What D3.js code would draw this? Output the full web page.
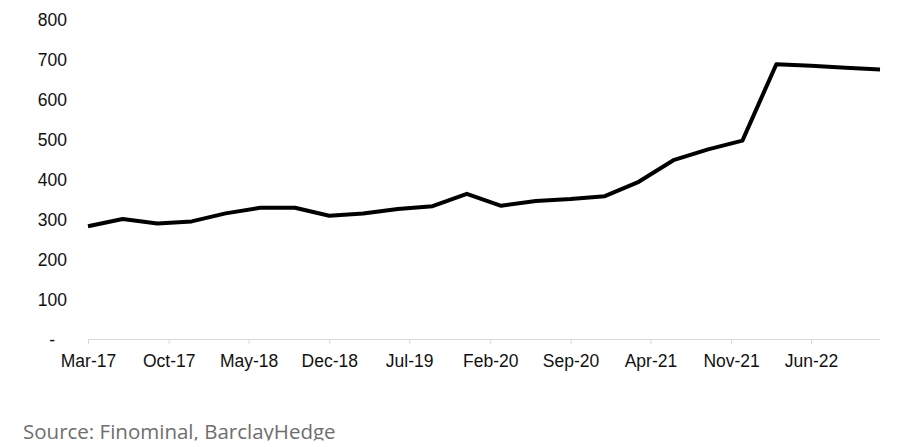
<!DOCTYPE html>
<html>
<head>
<meta charset="utf-8">
<script src="https://cdn.jsdelivr.net/npm/d3@7"></script>
<style>
  body { margin: 0; background: #fff; }
  svg { display: block; }
  .axis text { font-family: "Liberation Sans", Arial, sans-serif; font-size: 17.5px; fill: #111; }
  .source { font-family: "Open Sans", sans-serif; font-size: 20.5px; fill: #6e6e6e; }
</style>
</head>
<body>
<div id="chart"></div>
<script>
// quarterly observations
var months = ["Mar-17", "Jun-17", "Sep-17", "Dec-17", "Mar-18", "Jun-18", "Sep-18", "Dec-18",
  "Mar-19", "Jun-19", "Sep-19", "Dec-19", "Mar-20", "Jun-20", "Sep-20", "Dec-20",
  "Mar-21", "Jun-21", "Sep-21", "Dec-21", "Mar-22", "Jun-22", "Sep-22", "Dec-22"];
var values = [282, 300, 289, 294, 314, 328, 328, 308,
  314, 325, 332, 363, 333, 345, 350, 357,
  393, 447, 474, 496, 687, 683, 678, 674];
var xTickLabels = ["Mar-17", "Oct-17", "May-18", "Dec-18", "Jul-19", "Feb-20", "Sep-20", "Apr-21", "Nov-21", "Jun-22"];
var yTicks = [0, 100, 200, 300, 400, 500, 600, 700, 800];
var sourceText = "Source: Finominal, BarclayHedge";

var width = 900, height = 447;
var parse = d3.timeParse("%b-%y");

var svg = d3.select("#chart").append("svg")
    .attr("width", width)
    .attr("height", height);

var data = months.map(function (m, i) { return { date: parse(m), value: values[i] }; });

var x = d3.scaleTime()
    .domain([parse(months[0]), parse(months[months.length - 1])])
    .range([88, 880]);
var y = d3.scaleLinear()
    .domain([0, 800])
    .range([339, 19]);

// x axis
var xAxis = d3.axisBottom(x)
    .tickValues(xTickLabels.map(parse))
    .tickFormat(d3.timeFormat("%b-%y"))
    .tickSize(5)
    .tickPadding(10)
    .tickSizeOuter(0);
var gx = svg.append("g").attr("class", "axis")
    .attr("transform", "translate(0," + y(0) + ")")
    .call(xAxis);
gx.select(".domain").attr("stroke", "#d9d9d9").attr("stroke-width", 1.2);
gx.selectAll(".tick line").attr("stroke", "#d9d9d9");
gx.selectAll(".tick text").attr("dy", "0.75em");

// y axis (labels only)
var yAxis = d3.axisLeft(y)
    .tickValues(yTicks)
    .tickFormat(function (d) { return d === 0 ? "-" : d; })
    .tickSize(0)
    .tickPadding(21);
var gy = svg.append("g").attr("class", "axis")
    .attr("transform", "translate(88,0)")
    .call(yAxis);
gy.select(".domain").remove();
gy.selectAll(".tick text")
    .attr("dy", "0.36em")
    .filter(function (d) { return d === 0; })
    .attr("dx", -12);

// series
var line = d3.line()
    .x(function (d) { return x(d.date); })
    .y(function (d) { return y(d.value); });
svg.append("path")
    .datum(data)
    .attr("fill", "none")
    .attr("stroke", "#000")
    .attr("stroke-width", 4)
    .attr("stroke-linejoin", "round")
    .attr("d", line);

// source note, cut off at the bottom like the original image
svg.append("clipPath").attr("id", "srcclip")
    .append("rect").attr("x", 0).attr("y", 400).attr("width", width).attr("height", 40.5);
svg.append("text")
    .attr("class", "source")
    .attr("clip-path", "url(#srcclip)")
    .attr("x", 23)
    .attr("y", 438.5)
    .text(sourceText);
</script>
</body>
</html>
